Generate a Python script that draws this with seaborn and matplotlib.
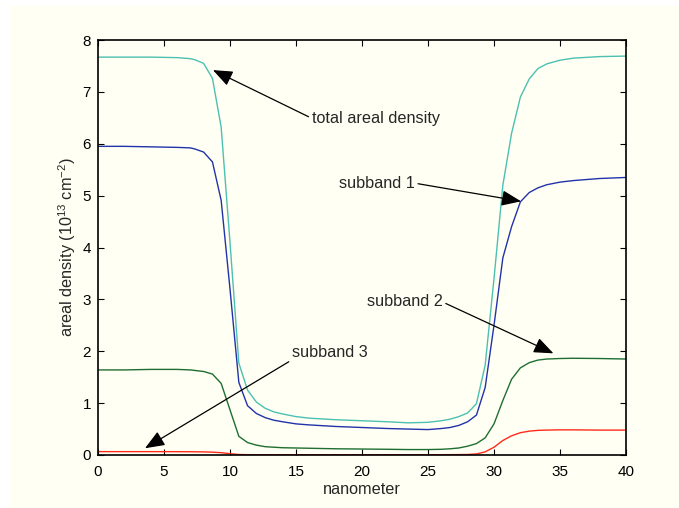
import numpy as np
import pandas as pd
import matplotlib
matplotlib.use("Agg")
import matplotlib.pyplot as plt
from matplotlib.patches import Rectangle
import seaborn as sns

# ---- data ----
nanometer = [0, 2, 4, 6, 7, 7.33, 8, 8.67, 9.33, 10, 10.67, 11.33, 12, 12.67, 13.33, 14,
             15, 16, 18, 20, 22, 23.5, 25, 26, 26.67, 27.33, 28, 28.67, 29.33, 30, 30.67,
             31.33, 32, 32.67, 33.33, 34, 35, 36, 38, 40]

total_density = [7.67, 7.67, 7.67, 7.66, 7.64, 7.62, 7.55, 7.26, 6.32, 4.1, 1.77, 1.25, 1.02,
                 0.9, 0.83, 0.79, 0.74, 0.71, 0.68, 0.66, 0.64, 0.62, 0.63, 0.66, 0.69, 0.74,
                 0.81, 0.99, 1.73, 3.4, 5.2, 6.2, 6.9, 7.25, 7.45, 7.54, 7.61, 7.65, 7.68, 7.69]

subband_1 = [5.95, 5.95, 5.94, 5.93, 5.92, 5.9, 5.84, 5.65, 4.91, 3.2, 1.4, 0.95, 0.8,
             0.72, 0.67, 0.64, 0.6, 0.58, 0.55, 0.53, 0.51, 0.5, 0.49, 0.51, 0.53, 0.57,
             0.64, 0.77, 1.3, 2.5, 3.8, 4.4, 4.88, 5.06, 5.15, 5.21, 5.26, 5.29, 5.33, 5.35]

subband_2 = [1.64, 1.64, 1.65, 1.65, 1.64, 1.63, 1.61, 1.56, 1.38, 0.87, 0.36, 0.24, 0.19,
             0.16, 0.15, 0.14, 0.135, 0.13, 0.12, 0.115, 0.11, 0.105, 0.105, 0.11, 0.12, 0.135,
             0.17, 0.22, 0.33, 0.6, 1.05, 1.46, 1.68, 1.78, 1.83, 1.85, 1.86, 1.865, 1.86, 1.85]

subband_3 = [0.065, 0.065, 0.065, 0.064, 0.063, 0.062, 0.06, 0.055, 0.045, 0.025, 0.01, 0.006,
             0.005, 0.005, 0.005, 0.005, 0.005, 0.005, 0.005, 0.005, 0.005, 0.005, 0.005, 0.006,
             0.007, 0.008, 0.01, 0.02, 0.06, 0.15, 0.28, 0.37, 0.43, 0.46, 0.475, 0.48, 0.485,
             0.485, 0.48, 0.48]

series_colors = {"total": "#4cc0b2", "s1": "#2233aa", "s2": "#1e6e32", "s3": "#ff2a1a"}

x_ticks = [0, 5, 10, 15, 20, 25, 30, 35, 40]
y_ticks = [0, 1, 2, 3, 4, 5, 6, 7, 8]

# ---- figure ----
sns.set_theme(style="ticks")
plt.rcParams["font.family"] = ["Liberation Sans", "DejaVu Sans"]
plt.rcParams["mathtext.fontset"] = "custom"
plt.rcParams["mathtext.rm"] = "Liberation Sans"
plt.rcParams["mathtext.it"] = "Liberation Sans"

cream = "#fffff3"
fs = 11.7
fig = plt.figure(figsize=(6.79, 5.08), dpi=100, facecolor="white")
fig.patches.append(Rectangle((10 / 679, 0), 1, 1 - 6 / 508, transform=fig.transFigure,
                             facecolor=cream, edgecolor="none", zorder=-10))
ax = fig.add_axes([98 / 679, 1 - 455 / 508, (626 - 98) / 679, (455 - 40) / 508])
ax.set_facecolor(cream)

df = pd.DataFrame({"x": nanometer, "total": total_density, "s1": subband_1,
                   "s2": subband_2, "s3": subband_3})
for key in ["total", "s1", "s2", "s3"]:
    sns.lineplot(data=df, x="x", y=key, color=series_colors[key], lw=1.0, ax=ax,
                 estimator=None, sort=False)

ax.set_xlim(0, 40)
ax.set_ylim(0, 8)
ax.set_xticks(x_ticks)
ax.set_yticks(y_ticks)
ax.tick_params(direction="in", length=4, width=0.8, top=True, right=True,
               labelsize=11, colors="black")
ax.tick_params(axis="x", pad=7)
ax.tick_params(axis="y", pad=5)
for s in ax.spines.values():
    s.set_visible(True)
    s.set_linewidth(1.2)
    s.set_color("black")

ax.set_xlabel("nanometer", fontsize=fs, labelpad=2)
ax.set_ylabel("areal density (10$^{13}$ cm$^{-2}$)", fontsize=fs, labelpad=3)

ap = dict(arrowstyle="-|>,head_length=0.75,head_width=0.3", color="black", lw=0.9,
          mutation_scale=16, shrinkA=0, shrinkB=0)
ax.annotate("total areal density", xy=(8.71, 7.42), xytext=(16.2, 6.49),
            ha="left", va="center", fontsize=fs,
            arrowprops=dict(ap, relpos=(0, 0.5)))
ax.annotate("subband 1", xy=(32.05, 4.89), xytext=(24.0, 5.24),
            ha="right", va="center", fontsize=fs,
            arrowprops=dict(ap, relpos=(1, 0.5)))
ax.annotate("subband 2", xy=(34.5, 1.96), xytext=(26.1, 2.95),
            ha="right", va="center", fontsize=fs,
            arrowprops=dict(ap, relpos=(1, 0.5)))
ax.annotate("subband 3", xy=(3.56, 0.13), xytext=(14.7, 1.98),
            ha="left", va="center", fontsize=fs,
            arrowprops=dict(ap, relpos=(0, 0)))

fig.savefig("out.png", dpi=100, facecolor=fig.get_facecolor())
